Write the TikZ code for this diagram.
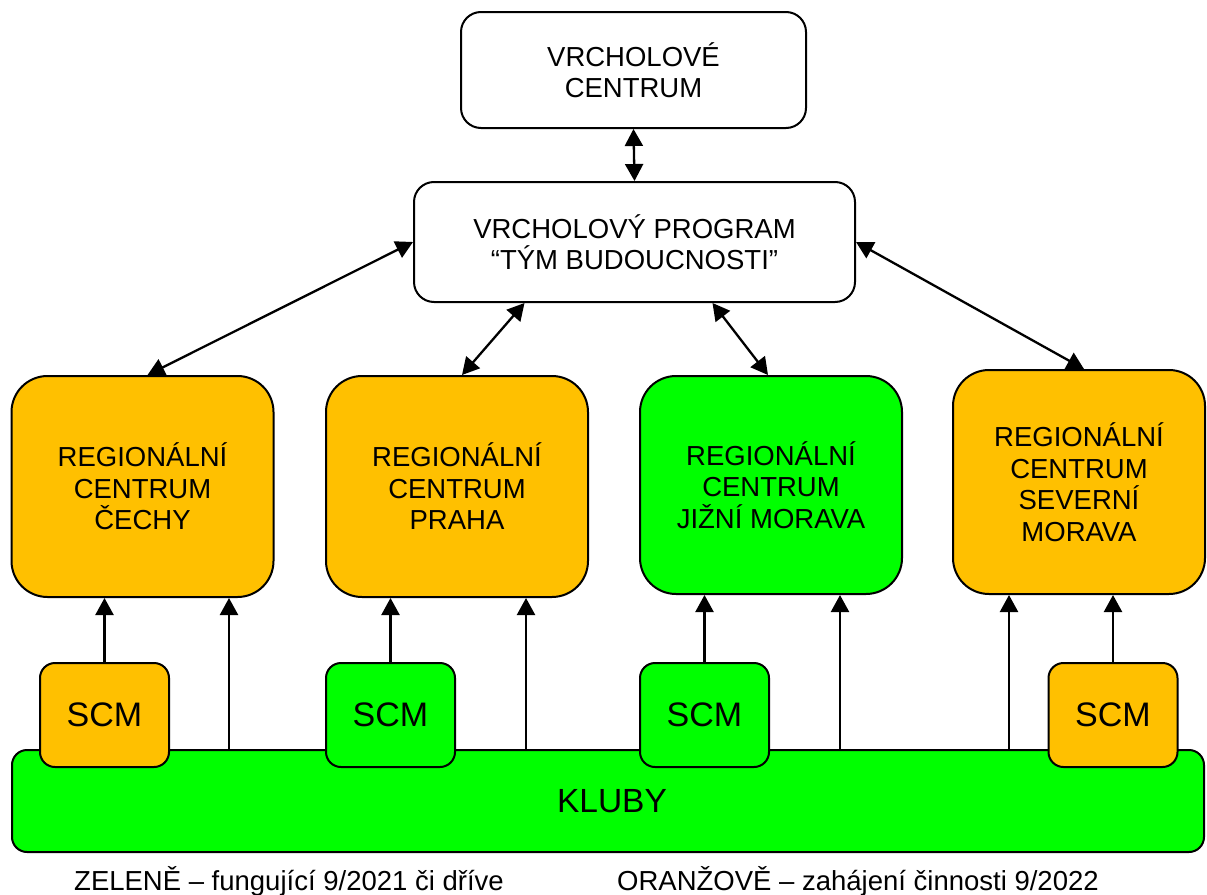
\documentclass[tikz,border=0pt]{standalone}
\usepackage{fontspec}
\setmainfont{Liberation Sans}
\usetikzlibrary{arrows.meta,calc}
\definecolor{orng}{HTML}{FFC000}
\definecolor{grn}{HTML}{00FF00}
\tikzset{
  box/.style={draw=black, line width=2pt, align=center, inner sep=0pt, font=\fontsize{27.5}{31.5}\selectfont},
  topbox/.style={box, fill=white, rounded corners=20pt},
  regbox/.style={box, rounded corners=36pt, minimum width=262pt},
  scmbox/.style={box, rounded corners=15pt, minimum width=129pt, minimum height=104pt, font=\fontsize{34}{38}\selectfont},
  biarr/.style={line width=2.3pt, {Triangle[length=17pt,width=18pt]}-{Triangle[length=17pt,width=18pt]}},
  uparr/.style={line width=2.3pt, -{Triangle[length=17pt,width=18pt]}},
  legend/.style={inner sep=0pt, anchor=base west, font=\fontsize{27.5}{31}\selectfont}
}
\begin{document}
\begin{tikzpicture}[x=1pt,y=-1pt]
\useasboundingbox[fill=white] (0,0) rectangle (1207,894);
% top boxes
\node[topbox, minimum width=345pt, minimum height=116pt] (top) at (633.5,70) {VRCHOLOVÉ\\CENTRUM};
\node[topbox, minimum width=441pt, minimum height=120pt] (prog) at (634.5,242) {VRCHOLOVÝ PROGRAM\\“TÝM BUDOUCNOSTI”};
% regional centres
\node[regbox, fill=orng, minimum height=221pt] (reg1) at (142.5,486.5) {REGIONÁLNÍ\\CENTRUM\\ČECHY};
\node[regbox, fill=orng, minimum height=221pt] (reg2) at (457,486.5) {REGIONÁLNÍ\\CENTRUM\\PRAHA};
\node[regbox, fill=grn, minimum height=218pt] (reg3) at (771,485) {REGIONÁLNÍ\\CENTRUM\\JIŽNÍ MORAVA};
\node[regbox, fill=orng, minimum width=252pt, minimum height=224pt] (reg4) at (1079,482) {REGIONÁLNÍ\\CENTRUM\\SEVERNÍ\\MORAVA};
% clubs
\node[box, fill=grn, rounded corners=15pt, minimum width=1192pt, minimum height=102pt, font=\fontsize{33.5}{38}\selectfont] (kluby) at (608,801) {\hspace*{8pt}KLUBY};
% SCM
\node[scmbox, fill=orng] (scm1) at (104.5,715) {SCM};
\node[scmbox, fill=grn] (scm2) at (390.5,715) {SCM};
\node[scmbox, fill=grn] (scm3) at (704.5,715) {SCM};
\node[scmbox, fill=orng] (scm4) at (1113,715) {SCM};
% connectors
\draw[biarr] (top.south) -- (prog.north);
\draw[biarr] (prog.west) -- ($(reg1.north)+(5,0)$);
\draw[biarr] ($(prog.south)+(-110,0)$) -- ($(reg2.north)+(5,0)$);
\draw[biarr] ($(prog.south)+(78,0)$) -- ($(reg3.north)+(-3,0)$);
\draw[biarr] (prog.east) -- ($(reg4.north)+(5,0)$);
\draw[uparr] (scm1.north) -- (scm1.north |- reg1.south);
\draw[uparr] (scm2.north) -- (scm2.north |- reg2.south);
\draw[uparr] (scm3.north) -- (scm3.north |- reg3.south);
\draw[uparr] (scm4.north) -- (scm4.north |- reg4.south);
\coordinate (k1) at (229,750);
\coordinate (k2) at (526,750);
\coordinate (k3) at (840,750);
\coordinate (k4) at (1009,750);
\draw[uparr] (k1) -- (k1 |- reg1.south);
\draw[uparr] (k2) -- (k2 |- reg2.south);
\draw[uparr] (k3) -- (k3 |- reg3.south);
\draw[uparr] (k4) -- (k4 |- reg4.south);
% legend
\node[legend] (leg1) at (74,890) {ZELENĚ – fungující 9/2021 či dříve};
\node[legend] (leg2) at (617,890) {ORANŽOVĚ – zahájení činnosti 9/2022};
\end{tikzpicture}
\end{document}
